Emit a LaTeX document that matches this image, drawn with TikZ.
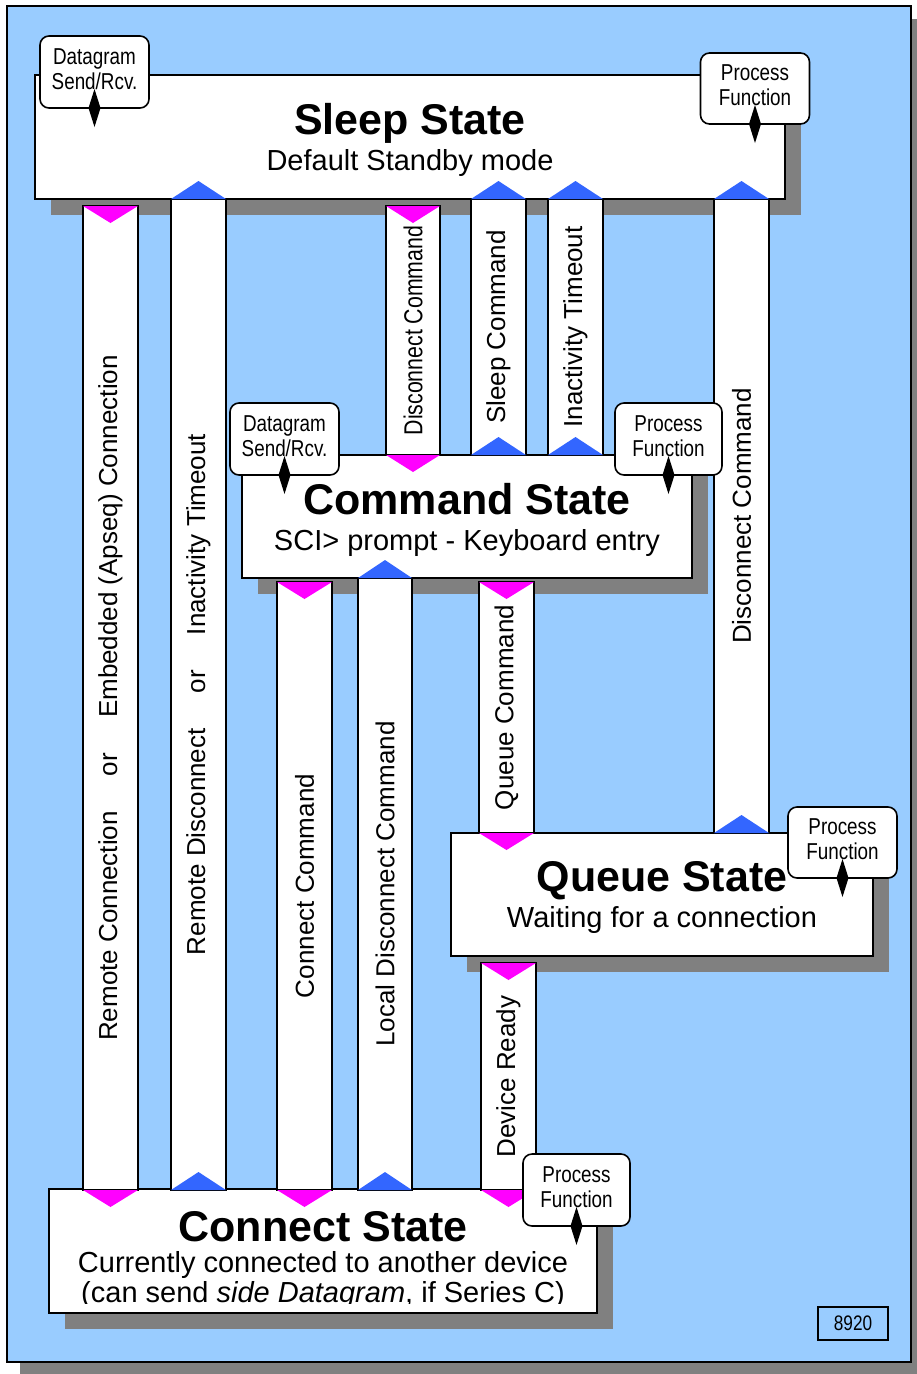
\documentclass[tikz,border=0pt]{standalone}
\usepackage{fontspec}
\setmainfont{Liberation Sans}
\newfontfamily\narrowfont[FakeStretch=0.82]{Liberation Sans}
\usepackage{graphicx}
\usepackage{tikz}
\usetikzlibrary{shadows}
\definecolor{sdbg}{RGB}{153,204,255}
\definecolor{sdgray}{RGB}{128,128,128}
\definecolor{sdmagenta}{RGB}{255,0,255}
\definecolor{sdblue}{RGB}{51,102,255}
\tikzstyle{state} = [rectangle, draw=black, line width=1.6pt, fill=white, inner sep=0pt, outer sep=0pt, align=center, text depth=0pt, font=\fontsize{29}{36}\selectfont, drop shadow={shadow xshift=16pt, shadow yshift=-16pt, opacity=1, fill=sdgray}]
\tikzstyle{band} = [rectangle, draw=black, line width=1.6pt, fill=white, minimum width=55pt, inner sep=0pt, outer sep=0pt, font=\fontsize{26}{30}\selectfont]
\tikzstyle{func} = [rectangle, rounded corners=9pt, draw=black, line width=1.6pt, fill=white, minimum width=109pt, minimum height=72pt, inner sep=0pt, outer sep=0pt, align=center, text depth=6pt, font=\fontsize{23}{25}\narrowfont]
\newcommand{\statetitle}[1]{{\fontsize{43}{36}\selectfont\bfseries #1}}
\newcommand{\downtips}[1]{%
  \fill[sdmagenta] (#1.north west) -- (#1.north east) -- ([yshift=-17pt]#1.north) -- cycle;
  \fill[sdmagenta] (#1.south west) -- (#1.south east) -- ([yshift=-17pt]#1.south) -- cycle;}
\newcommand{\uptips}[1]{%
  \fill[sdblue] (#1.north west) -- (#1.north east) -- ([yshift=18pt]#1.north) -- cycle;
  \fill[sdblue] (#1.south west) -- (#1.south east) -- ([yshift=18pt]#1.south) -- cycle;}
\newcommand{\linkmark}[1]{%
  \fill ([yshift=19pt]#1.south) -- ([xshift=6pt]#1.south) -- ([yshift=-19pt]#1.south) -- ([xshift=-6pt]#1.south) -- cycle;}

\begin{document}
\begin{tikzpicture}[x=1pt, y=-1pt]
\useasboundingbox (0,0) rectangle (917,1374);
% frame
\fill[sdgray] (20,19) rectangle (917,1374);
\draw[line width=1.5pt, fill=sdbg] (7,6) rectangle (911,1362);

% states
\node (sleep) [state, minimum width=750pt, minimum height=124pt] at (410,137) {\statetitle{Sleep State}\\Default Standby mode};
\node (command) [state, minimum width=450pt, minimum height=123pt] at (467,516.5) {\statetitle{Command State}\\SCI> prompt - Keyboard entry};
\node (queue) [state, minimum width=422pt, minimum height=123pt] at (662,894.5) {\statetitle{Queue State}\\Waiting for a connection};
\node (connect) [state, minimum width=548pt, minimum height=124pt] at (323,1251) {};
\begin{scope}
\clip (49,1195) rectangle (597,1303);
\node (connecttext) [align=center, inner sep=0pt, anchor=north, font=\fontsize{29}{30}\selectfont] at (323,1211.5) {\statetitle{Connect State}\\[1pt]Currently connected to another device\\(can send \textit{side Datagram}, if Series C)};
\end{scope}

% transitions
\node (c1) [band, minimum height=984pt] at (110.5,698) {\rotatebox{90}{Remote Connection\hspace{35pt}or\hspace{35pt}Embedded (Apseq) Connection}};
\node (c2) [band, minimum height=991pt] at (198.5,694.5) {\rotatebox{90}{Remote Disconnect\hspace{35pt}or\hspace{35pt}Inactivity Timeout}};
\node (c3) [band, minimum width=54pt, minimum height=249pt, font=\fontsize{26}{30}\narrowfont] at (413,330.5) {\rotatebox{90}{Disconnect Command}};
\node (c4) [band, minimum height=256pt] at (498.5,327) {\rotatebox{90}{Sleep Command}};
\node (c5) [band, minimum height=256pt] at (575.5,327) {\rotatebox{90}{Inactivity Timeout}};
\node (c6) [band, minimum height=634pt] at (741.5,516) {\rotatebox{90}{Disconnect Command}};
\node (c7) [band, minimum height=608pt] at (304.5,886) {\rotatebox{90}{Connect Command}};
\node (c8) [band, minimum width=54pt, minimum height=612pt] at (385,884) {\rotatebox{90}{Local Disconnect Command}};
\node (c9) [band, minimum height=251pt] at (506.5,707.5) {\rotatebox{90}{Queue Command}};
\node (c10) [band, minimum height=227pt] at (508.5,1076.5) {\rotatebox{90}{Device Ready}};
\downtips{c1} \uptips{c2} \downtips{c3} \uptips{c4} \uptips{c5}
\uptips{c6} \downtips{c7} \uptips{c8} \downtips{c9} \downtips{c10}

% function tags
\node (dg1) [func] at (94.5,72) {Datagram\\Send/Rcv.};
\node (pf1) [func, minimum height=71pt] at (755,88.5) {Process\\Function};
\node (dg2) [func] at (284.5,439) {Datagram\\Send/Rcv.};
\node (pf2) [func, minimum width=107pt] at (668.5,439) {Process\\Function};
\node (pf3) [func, minimum height=71pt] at (842.5,842.5) {Process\\Function};
\node (pf4) [func, minimum width=107pt] at (576.5,1190) {Process\\Function};
\linkmark{dg1} \linkmark{pf1} \linkmark{dg2} \linkmark{pf2} \linkmark{pf3} \linkmark{pf4}

\node (figno) [draw=black, line width=1.2pt, minimum width=70pt, minimum height=33pt, inner sep=0pt, font=\fontsize{21}{22}\narrowfont] at (853,1323.5) {\raisebox{-4pt}{8920}};
\end{tikzpicture}
\end{document}
